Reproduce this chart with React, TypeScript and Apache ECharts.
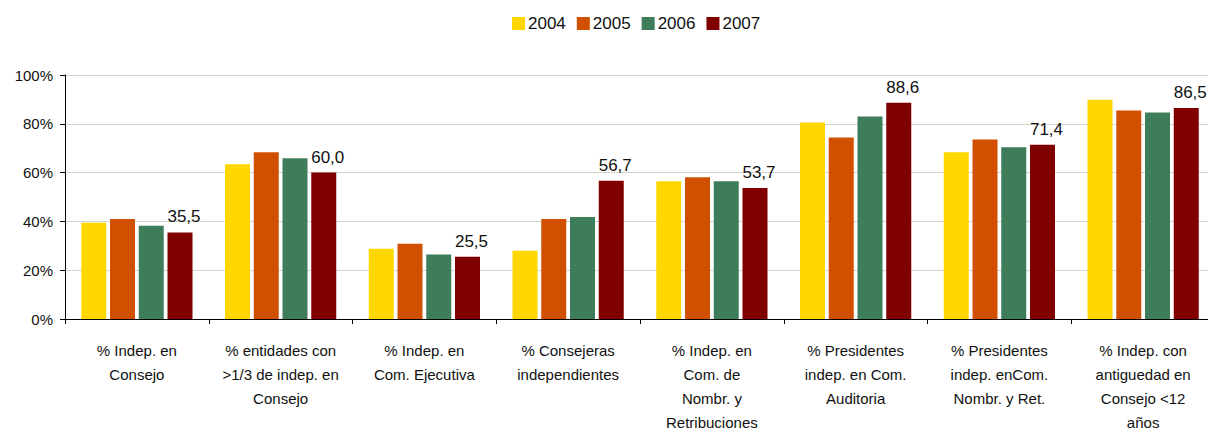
import React, { useEffect, useRef } from "react";
import * as echarts from "echarts";

const categories = [
  "% Indep. en\nConsejo",
  "% entidades con\n>1/3 de indep. en\nConsejo",
  "% Indep. en\nCom. Ejecutiva",
  "% Consejeras\nindependientes",
  "% Indep. en\nCom. de\nNombr. y\nRetribuciones",
  "% Presidentes\nindep. en Com.\nAuditoria",
  "% Presidentes\nindep. enCom.\nNombr. y Ret.",
  "% Indep. con\nantiguedad en\nConsejo <12\naños",
];
const years = ["2004", "2005", "2006", "2007"];
const values2004 = [39.4, 63.4, 28.8, 28.0, 56.5, 80.5, 68.3, 89.9];
const values2005 = [41.0, 68.3, 30.8, 41.0, 58.1, 74.4, 73.6, 85.4];
const values2006 = [38.2, 65.9, 26.4, 41.8, 56.5, 83.0, 70.4, 84.6];
const values2007 = [35.5, 60.0, 25.5, 56.7, 53.7, 88.6, 71.4, 86.5];
const yTicks = { min: 0, max: 100, interval: 20 };

const colors = ["#FFD700", "#D05000", "#3E7D5A", "#800000"];
const FONT = "Liberation Sans, Arial, sans-serif";

export default function App() {
  const ref = useRef<HTMLDivElement>(null);
  useEffect(() => {
    if (!ref.current) return;
    const chart = echarts.init(ref.current, null, { renderer: "svg" });
    const seriesData = [values2004, values2005, values2006, values2007];
    chart.setOption({
      animation: false,
      textStyle: { fontFamily: FONT },
      color: colors,
      legend: {
        top: 10,
        left: 507,
        itemWidth: 13,
        itemHeight: 13,
        itemGap: 11,
        icon: "rect",
        textStyle: { fontSize: 17, color: "#111", fontFamily: FONT, padding: [0, 0, 0, -2] },
        data: years,
      },
      grid: { left: 65, right: 0, top: 75, bottom: 113, containLabel: false },
      xAxis: {
        type: "category",
        data: categories,
        axisLine: { lineStyle: { color: "#000", width: 1 } },
        axisTick: { show: true, length: 5, lineStyle: { color: "#000" } },
        axisLabel: {
          interval: 0,
          fontSize: 15,
          lineHeight: 24,
          color: "#111",
          margin: 19,
          fontFamily: FONT,
        },
      },
      yAxis: {
        type: "value",
        min: yTicks.min,
        max: yTicks.max,
        interval: yTicks.interval,
        axisLine: { show: true, lineStyle: { color: "#000" } },
        axisTick: { show: true, length: 5, lineStyle: { color: "#000" } },
        splitLine: { lineStyle: { color: "#D4D4CC", width: 1 } },
        axisLabel: {
          formatter: "{value}%",
          fontSize: 15,
          color: "#111",
          margin: 12,
          fontFamily: FONT,
        },
      },
      series: years.map((y, i) => ({
        name: y,
        type: "bar",
        data: seriesData[i],
        barWidth: 25,
        barGap: "15%",
        itemStyle: { color: colors[i] },
        label:
          i === 3
            ? {
                show: true,
                position: "top",
                distance: 7,
                fontSize: 17,
                color: "#111",
                fontFamily: FONT,
                offset: [4, 0],
                formatter: (p: any) => Number(p.value).toFixed(1).replace(".", ","),
              }
            : { show: false },
      })),
    });
    return () => chart.dispose();
  }, []);
  return (
    <div style={{ width: 1208, height: 434, position: "absolute", left: 0, top: 0, overflow: "hidden" }}>
      <div ref={ref} style={{ width: 1215, height: 434 }} />
    </div>
  );
}
